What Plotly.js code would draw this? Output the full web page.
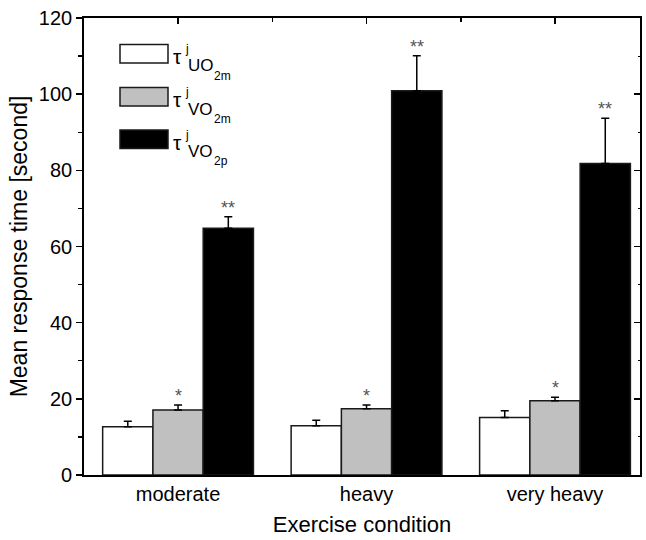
<!DOCTYPE html>
<html>
<head>
<meta charset="utf-8">
<script src="https://cdn.plot.ly/plotly-3.0.1.min.js"></script>
<style>html,body{margin:0;padding:0;background:#fff;}#chart{width:646px;height:540px;}</style>
</head>
<body>
<div id="chart"></div>
<script>
// ---- data ----
const categories = ["moderate", "heavy", "very heavy"];
const tauUO2m = [12.7, 12.9, 15.1];
const tauUO2mErr = [1.4, 1.5, 1.8];
const tauVO2m = [17.1, 17.4, 19.5];
const tauVO2mErr = [1.3, 1.0, 0.9];
const tauVO2p = [64.8, 100.9, 81.8];
const tauVO2pErr = [3.0, 9.2, 11.9];
const sigVO2m = ["*", "*", "*"];
const sigVO2p = ["**", "**", "**"];
const yTicks = [0, 20, 40, 60, 80, 100, 120];

// ---- layout geometry (pixels) ----
const W = 646, H = 540;
const L = 84, R = 640, T = 18, B = 475;
const px = x => (x - L) / (R - L);
const py = y => (B - y) / (B - T);

const fontFam = "Liberation Sans, Arial, Helvetica, sans-serif";
const outline = {color: "#1a1a1a", width: 1.5};
function errs(arr) { return {type: "data", symmetric: false, array: arr, arrayminus: arr.map(() => 0), color: "#000", thickness: 1.5, width: 4}; }

const traces = [
  {type: "bar", name: "UO2m", x: categories, y: tauUO2m, error_y: errs(tauUO2mErr), marker: {color: "#ffffff", line: outline}},
  {type: "bar", name: "VO2m", x: categories, y: tauVO2m, error_y: errs(tauVO2mErr), marker: {color: "#c0c0c0", line: outline}},
  {type: "bar", name: "VO2p", x: categories, y: tauVO2p, error_y: errs(tauVO2pErr), marker: {color: "#000000", line: outline}}
];

const annotations = [];
const barOff = 0.8 / 3;
categories.forEach((c, i) => {
  annotations.push({x: i, y: tauVO2m[i] + tauVO2mErr[i], xref: "x", yref: "y", text: sigVO2m[i], showarrow: false,
    yanchor: "middle", yshift: 9, font: {family: fontFam, size: 18, color: "#555"}});
  annotations.push({x: i + barOff, y: tauVO2p[i] + tauVO2pErr[i], xref: "x", yref: "y", text: sigVO2p[i], showarrow: false,
    yanchor: "middle", yshift: 9, font: {family: fontFam, size: 18, color: "#555"}});
});

// legend drawn manually
const legendFill = ["#ffffff", "#c0c0c0", "#000000"];
const legendSub = ["UO", "VO", "VO"];
const legendSubSub = ["2m", "2m", "2p"];
const rowOff = [0, 43, 85.5];
const shapes = [];
rowOff.forEach((o, k) => {
  shapes.push({type: "rect", xref: "paper", yref: "paper", x0: px(120), x1: px(168), y0: py(44.5 + o), y1: py(63 + o),
    fillcolor: legendFill[k], line: {color: "#1a1a1a", width: 1.5}});
  const tx = (x, y, t, s) => annotations.push({xref: "paper", yref: "paper", x: px(x), y: py(y + o), text: t, showarrow: false,
    xanchor: "left", yanchor: "middle", borderpad: 0, font: {family: fontFam, size: s, color: "#000"}});
  tx(172, 56.5, "τ", 21);
  tx(184, 49.5, "j", 12);
  tx(187, 66, legendSub[k], 17);
  tx(213, 75.5, legendSubSub[k], 12);
});

const layout = {
  width: W, height: H,
  margin: {l: L, r: W - R, t: T, b: H - B},
  paper_bgcolor: "#fff", plot_bgcolor: "#fff",
  showlegend: false,
  barmode: "group", bargap: 0.2, bargroupgap: 0,
  font: {family: fontFam, color: "#000"},
  xaxis: {
    type: "category", range: [-0.499, 2.451], showline: true, linecolor: "#000", linewidth: 1.8,
    ticks: "", tickfont: {size: 20}, showgrid: false, zeroline: false,
    title: {text: "Exercise condition", font: {size: 22}, standoff: 13}
  },
  xaxis2: {
    overlaying: "x", side: "top", range: [-0.499, 2.451], showline: true, linecolor: "#000", linewidth: 1.8,
    ticks: "inside", ticklen: 6, tickwidth: 1.5, tickcolor: "#000", tickmode: "linear", tick0: 0, dtick: 1,
    minor: {ticks: "inside", ticklen: 4, tickwidth: 1.5, tickcolor: "#000", dtick: 0.5, tick0: 0, showgrid: false},
    showticklabels: false, showgrid: false, zeroline: false
  },
  yaxis: {
    range: [0, 120], tickvals: yTicks, showline: true, linecolor: "#000", linewidth: 1.8,
    ticks: "outside", ticklen: 6, tickwidth: 1.5, tickcolor: "#000", tickfont: {size: 20},
    minor: {ticks: "outside", ticklen: 4, tickwidth: 1.2, tickcolor: "#000", dtick: 10, showgrid: false},
    showgrid: false, zeroline: false,
    title: {text: "Mean response time [second]", font: {size: 23}, standoff: 5}
  },
  yaxis2: {
    overlaying: "y", side: "right", range: [0, 120], tickvals: yTicks, showline: true, linecolor: "#000", linewidth: 1.8,
    ticks: "inside", ticklen: 6, tickwidth: 1.5, tickcolor: "#000",
    minor: {ticks: "inside", ticklen: 2, tickwidth: 1, tickcolor: "#000", dtick: 10, showgrid: false},
    showticklabels: false, showgrid: false, zeroline: false
  },
  shapes: shapes,
  annotations: annotations
};

// invisible trace to activate the mirror axes
traces.push({type: "scatter", x: [0], y: [0], xaxis: "x2", yaxis: "y2", mode: "markers", marker: {opacity: 0}, hoverinfo: "skip"});

Plotly.newPlot("chart", traces, layout, {displayModeBar: false, staticPlot: true});
</script>
</body>
</html>
